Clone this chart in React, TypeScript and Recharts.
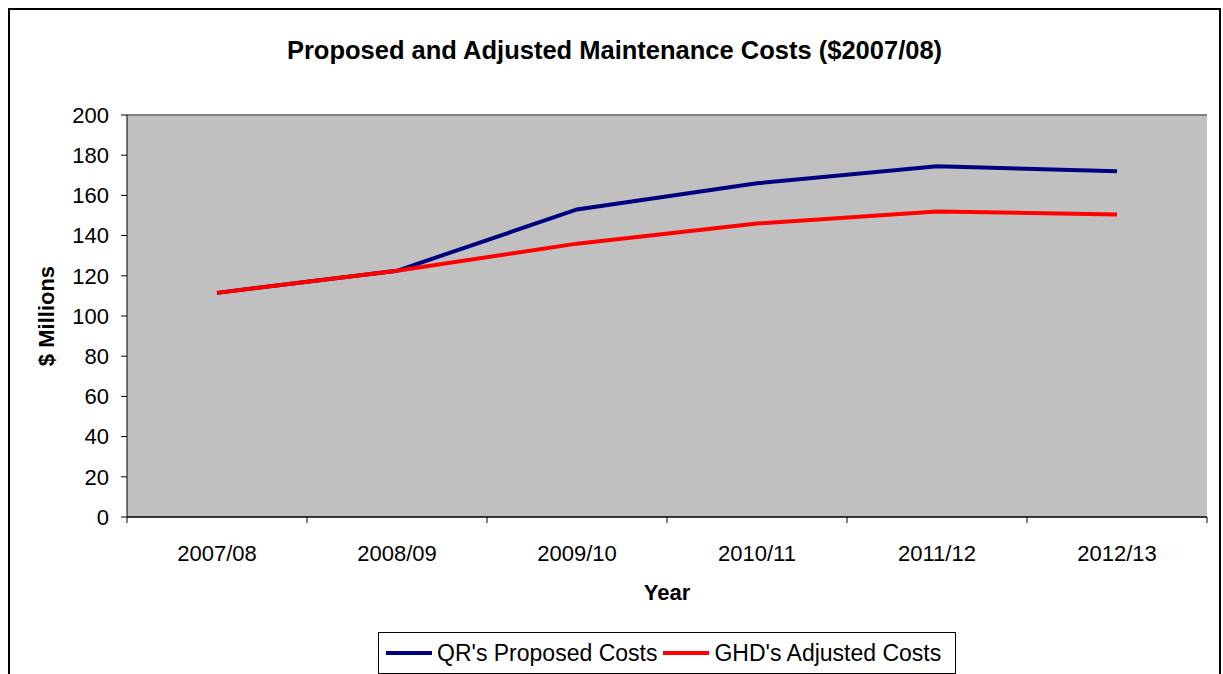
import { LineChart, Line, XAxis, YAxis, CartesianGrid, ReferenceLine, Label } from "recharts";

const years = ["2007/08", "2008/09", "2009/10", "2010/11", "2011/12", "2012/13"];
const proposedCosts = [111.5, 122.5, 153, 166, 174.5, 172];
const adjustedCosts = [111.5, 122.5, 136, 146, 152, 150.5];
const yTicks = [0, 20, 40, 60, 80, 100, 120, 140, 160, 180, 200];

const data = years.map((year, i) => ({
  year,
  proposed: proposedCosts[i],
  adjusted: adjustedCosts[i],
}));

const FONT = "'Liberation Sans', Arial, sans-serif";
const BLUE = "#000080";
const RED = "#ff0000";
const HALF_BAND = 90;

// category ticks with the tick marks on the band edges, like Excel
function YearTick(props: any) {
  const { x, y, payload, index } = props;
  const top = y - 28;
  return (
    <g>
      <line x1={x - HALF_BAND} y1={top} x2={x - HALF_BAND} y2={top + 6} stroke="#000" />
      {index === years.length - 1 && (
        <line x1={x + HALF_BAND} y1={top} x2={x + HALF_BAND} y2={top + 6} stroke="#000" />
      )}
      <text x={x} y={y} dy="0.71em" textAnchor="middle" fontSize={22} fontFamily={FONT} fill="#000">
        {payload.value}
      </text>
    </g>
  );
}

export default function App() {
  return (
    <>
      <style>{"html,body{margin:0;overflow:hidden;}"}</style>
      <div
        style={{
          position: "relative",
          margin: 8,
          width: 1209,
          height: 720,
          border: "2px solid #000",
          background: "#fff",
          fontFamily: FONT,
        }}
      >
        <div
          style={{
            position: "absolute",
            left: 0,
            right: 0,
            top: 26,
            textAlign: "center",
            fontSize: 25.5,
            fontWeight: "bold",
            color: "#000",
          }}
        >
          Proposed and Adjusted Maintenance Costs ($2007/08)
        </div>
        <LineChart
          width={1209}
          height={700}
          data={data}
          margin={{ top: 105, right: 12, bottom: 113, left: 0 }}
        >
          <CartesianGrid vertical={false} stroke="#000" fill="#c0c0c0" fillOpacity={1} />
          <XAxis
            dataKey="year"
            height={80}
            padding={{ left: HALF_BAND, right: HALF_BAND }}
            axisLine={{ stroke: "#000" }}
            tickLine={false}
            tickSize={6}
            tickMargin={22}
            tick={<YearTick />}
            interval={0}
          >
            <Label
              content={(p: any) => (
                <text
                  x={p.viewBox.x + p.viewBox.width / 2}
                  y={p.viewBox.y + 83}
                  textAnchor="middle"
                  fontSize={22}
                  fontWeight="bold"
                  fontFamily={FONT}
                  fill="#000"
                >
                  Year
                </text>
              )}
            />
          </XAxis>
          <YAxis
            yAxisId="left"
            width={117}
            domain={[0, 200]}
            ticks={yTicks}
            interval={0}
            axisLine={{ stroke: "#000" }}
            tickLine={{ stroke: "#000" }}
            tickSize={6}
            tickMargin={12}
            tick={{ fontSize: 22, fontFamily: FONT, fill: "#000" }}
          >
            <Label
              content={(p: any) => {
                const cx = p.viewBox.x + 36;
                const cy = p.viewBox.y + p.viewBox.height / 2;
                return (
                  <text
                    x={cx}
                    y={cy}
                    transform={`rotate(-90 ${cx} ${cy})`}
                    textAnchor="middle"
                    dominantBaseline="central"
                    fontSize={22}
                    fontWeight="bold"
                    fontFamily={FONT}
                    fill="#000"
                  >
                    $ Millions
                  </text>
                );
              }}
            />
          </YAxis>
          <YAxis
            yAxisId="right"
            orientation="right"
            width={0}
            domain={[0, 200]}
            tick={false}
            tickLine={false}
            axisLine={{ stroke: "#808080", strokeWidth: 2 }}
          />
          <ReferenceLine yAxisId="left" y={200} stroke="#808080" strokeWidth={2} />
          <Line
            yAxisId="left"
            dataKey="proposed"
            name="QR's Proposed Costs"
            stroke={BLUE}
            strokeWidth={4}
            dot={false}
            activeDot={false}
            isAnimationActive={false}
          />
          <Line
            yAxisId="left"
            dataKey="adjusted"
            name="GHD's Adjusted Costs"
            stroke={RED}
            strokeWidth={4}
            dot={false}
            activeDot={false}
            isAnimationActive={false}
          />
        </LineChart>
        <div
          style={{
            position: "absolute",
            left: 368,
            top: 622,
            width: 576,
            height: 40,
            border: "1px solid #000",
            display: "flex",
            alignItems: "center",
            fontSize: 23,
            color: "#000",
            whiteSpace: "nowrap",
          }}
        >
          <span style={{ display: "inline-block", width: 46, height: 4, background: BLUE, marginLeft: 7, marginRight: 5 }} />
          <span>QR's Proposed Costs</span>
          <span style={{ display: "inline-block", width: 46, height: 4, background: RED, marginLeft: 6, marginRight: 5 }} />
          <span>GHD's Adjusted Costs</span>
        </div>
      </div>
    </>
  );
}
